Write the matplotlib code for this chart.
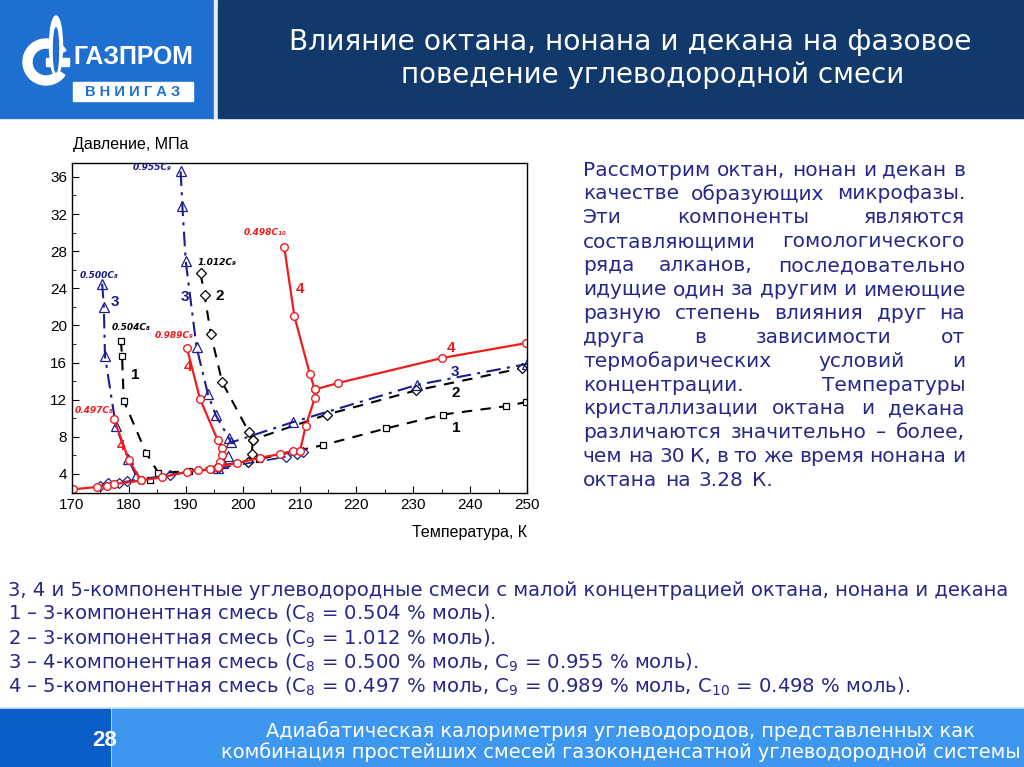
import matplotlib
matplotlib.use('Agg')
import matplotlib.pyplot as plt
from matplotlib.patches import Rectangle, Ellipse, Wedge
from matplotlib.ticker import MultipleLocator

# ---- данные (T, К ; P, МПа) ----
# 1: C8 = 0.504 (квадраты, штрих)
s1_T = [178.6, 178.8, 179.1, 183.0, 185.2, 190.5, 202.9, 214.1, 225.2, 235.2, 246.3, 249.9]
s1_P = [18.3, 16.7, 11.9, 6.3, 4.1, 4.3, 5.6, 7.1, 8.9, 10.4, 11.3, 11.75]
s1_low_T = [183.7]
s1_low_P = [3.4]

# 2: C9 = 1.012 (ромбы, штрих)
s2_T = [192.6, 193.3, 194.4, 196.4, 201.1, 201.8, 214.8, 230.5, 249.1]
s2_P = [25.6, 23.3, 19.1, 13.9, 8.5, 7.7, 10.4, 13.0, 15.4]
s2_low_T = [201.8, 201.6, 201.0]
s2_low_P = [7.7, 6.2, 5.3]

# 3: C8 = 0.500, C9 = 0.955 (треугольники, штрих-пунктир)
s3a_T = [175.3, 175.6, 175.8, 177.7, 179.9, 181.3]
s3a_P = [24.5, 22.0, 16.7, 9.2, 5.6, 3.8]
s3b_T = [189.1, 189.4, 190.0, 191.9, 193.9, 195.3, 197.6, 198.0, 208.9, 230.7, 250.0]
s3b_P = [36.6, 32.9, 26.9, 17.65, 12.6, 10.3, 7.85, 7.4, 9.6, 13.6, 15.85]
s3_low_T = [197.5, 196.6, 195.6]
s3_low_P = [5.9, 5.2, 4.6]
s3d_T = [174.9, 176.4, 178.3, 179.6, 187.2, 195.6, 207.7, 209.5, 210.6]
s3d_P = [2.7, 3.0, 3.05, 3.2, 3.9, 4.6, 5.85, 6.15, 6.4]

# 4: C8 = 0.497, C9 = 0.989, C10 = 0.498 (круги, сплошная)
s4_T = [170.2, 174.4, 176.1, 177.4, 182.1, 185.9, 190.2, 192.2, 194.3, 195.7, 199.0, 203.1,
        206.6, 208.9, 210.1, 211.1, 212.7, 212.7, 216.8, 235.1, 249.9]
s4_P = [2.35, 2.6, 2.7, 2.9, 3.3, 3.65, 4.25, 4.4, 4.5, 4.8, 5.15, 5.75,
        6.15, 6.5, 6.5, 9.2, 12.2, 13.1, 13.8, 16.5, 18.1]
s4a_T = [177.4, 180.0, 182.1]
s4a_P = [9.9, 5.5, 3.3]
s4b_T = [190.2, 192.5, 195.6, 196.4, 196.3, 196.0, 195.7]
s4b_P = [17.6, 12.1, 7.65, 6.85, 6.05, 5.3, 4.7]
s4c_T = [207.3, 209.1, 211.8, 212.7]
s4c_P = [28.5, 21.0, 14.8, 13.1]

x_ticks = [170, 180, 190, 200, 210, 220, 230, 240, 250]
y_ticks = [4, 8, 12, 16, 20, 24, 28, 32, 36]

title_lines = ['Влияние октана, нонана и декана на фазовое',
               'поведение углеводородной смеси']

para_lines = ['Рассмотрим октан, нонан и декан в',
              'качестве образующих микрофазы.',
              'Эти компоненты являются',
              'составляющими гомологического',
              'ряда алканов, последовательно',
              'идущие один за другим и имеющие',
              'разную степень влияния друг на',
              'друга в зависимости от',
              'термобарических условий и',
              'концентрации. Температуры',
              'кристаллизации октана и декана',
              'различаются значительно – более,',
              'чем на 30 К, в то же время нонана и',
              'октана на 3.28 К.']

notes = ['3, 4 и 5-компонентные углеводородные смеси с малой концентрацией октана, нонана и декана',
         '1 – 3-компонентная смесь (C$_8$ = 0.504 % моль).',
         '2 – 3-компонентная смесь (C$_9$ = 1.012 % моль).',
         '3 – 4-компонентная смесь (C$_8$ = 0.500 % моль, C$_9$ = 0.955 % моль).',
         '4 – 5-компонентная смесь (C$_8$ = 0.497 % моль, C$_9$ = 0.989 % моль, C$_{10}$ = 0.498 % моль).']

footer_lines = ['Адиабатическая калориметрия углеводородов, представленных как',
                'комбинация простейших смесей газоконденсатной углеводородной системы']

plt.rcParams['font.family'] = ['Liberation Sans', 'DejaVu Sans']
plt.rcParams['mathtext.fontset'] = 'custom'
plt.rcParams['mathtext.rm'] = 'DejaVu Sans'
plt.rcParams['mathtext.it'] = 'DejaVu Sans:italic'

W, H = 1024, 767
fig = plt.figure(figsize=(W / 100, H / 100), dpi=100)
renderer = fig.canvas.get_renderer()


def fit(t, width):
    # подогнать размер шрифта под ширину строки на исходном слайде
    w = t.get_window_extent(renderer).width
    t.set_fontsize(t.get_fontsize() * width / w)


# фон в пикселях
bg = fig.add_axes([0, 0, 1, 1], zorder=0)
bg.set_xlim(0, W)
bg.set_ylim(H, 0)
bg.axis('off')

navy_txt = '#27278a'
logo_blue = '#1f6fd1'

# шапка
bg.add_patch(Rectangle((0, 0), 214, 118, color=logo_blue))
bg.add_patch(Rectangle((214, 0), 4, 118, color='#e8eef7'))
bg.add_patch(Rectangle((218, 0), W - 218, 118, color='#11396c'))
t = bg.text(630, 42, title_lines[0], color='white', fontsize=20, family='DejaVu Sans',
            ha='center', va='center')
fit(t, 684)
t = bg.text(653, 75, title_lines[1], color='white', fontsize=20, family='DejaVu Sans',
            ha='center', va='center')
fit(t, 503)

# логотип
bg.add_patch(Wedge((46, 62), 23, 35, 330, width=9, color='white'))
bg.add_patch(Rectangle((46, 58), 23, 8, color='white'))
bg.add_patch(Ellipse((56, 46), 13, 60, color='white'))
bg.add_patch(Ellipse((56, 50), 5, 44, color=logo_blue))
t = bg.text(133, 57, 'ГАЗПРОМ', color='white', fontsize=22, fontweight='bold',
            family=['Liberation Sans Narrow', 'Liberation Sans'], ha='center', va='center')
fit(t, 120)
bg.add_patch(Rectangle((73, 82), 120, 19, color='white'))
bg.text(133, 92, 'В Н И И Г А З', color=logo_blue, fontsize=10.5, fontweight='bold',
        ha='center', va='center')

# подвал
bg.add_patch(Rectangle((0, 707), W, 2, color='#d8e6f7'))
bg.add_patch(Rectangle((0, 709), 110, H - 709, color='#0a5cc6'))
bg.add_patch(Rectangle((112, 709), W - 112, H - 709, color='#3d97ee'))
bg.text(105, 741, '28', color='white', fontsize=16, fontweight='bold',
        family=['Liberation Sans Narrow', 'Liberation Sans'], ha='center', va='center')
t = bg.text(620, 731, footer_lines[0], color='white', fontsize=13.5, family='DejaVu Sans',
            ha='center', va='center')
fit(t, 710)
t = bg.text(621, 752, footer_lines[1], color='white', fontsize=13.5, family='DejaVu Sans',
            ha='center', va='center')
fit(t, 798)

# подписи под графиком
note_size = None
for i, line in enumerate(notes):
    t = bg.text(8, 590 + i * 24.2, line, color=navy_txt, fontsize=14, family='DejaVu Sans',
                ha='left', va='center')
    if i == 0:
        fit(t, 1007)
        note_size = t.get_fontsize()
    else:
        t.set_fontsize(note_size)

# текст справа, по ширине
x0, x1 = 583, 965
for i, line in enumerate(para_lines):
    y = 170 + i * 23.9
    words = line.split(' ')
    texts = [bg.text(0, y, w, color=navy_txt, fontsize=14.5, family='DejaVu Sans',
                     ha='left', va='center') for w in words]
    widths = [tt.get_window_extent(renderer).width for tt in texts]
    if i == len(para_lines) - 1:
        gap = 8
    else:
        gap = (x1 - x0 - sum(widths)) / (len(words) - 1)
    x = x0
    for tt, w in zip(texts, widths):
        tt.set_x(x)
        x += w + gap

# ---- график ----
ax = fig.add_axes([72 / W, 1 - 493 / H, 455 / W, 330 / H], zorder=1)
ax.patch.set_alpha(0)
red = '#f01c1c'
blue = '#1c1c8c'

dash = (0, (5, 4))
dashdot = (0, (7, 3, 1.5, 3))

ax.plot(s1_T, s1_P, color='black', ls=dash, lw=1.5, marker='s', ms=5, mfc='white', mew=0.9)
ax.plot(s1_low_T, s1_low_P, ls='none', color='black', marker='s', ms=5, mfc='white', mew=0.9)
ax.plot(s2_T, s2_P, color='black', ls=dash, lw=1.5, marker='D', ms=5, mfc='white', mew=0.9)
ax.plot(s2_low_T, s2_low_P, color='black', ls=dash, lw=1.5, marker='D', ms=5, mfc='white', mew=0.9)
ax.plot(s3a_T, s3a_P, color=blue, ls=dashdot, lw=1.5, marker='^', ms=7, mfc='none', mew=0.9)
ax.plot(s3b_T, s3b_P, color=blue, ls=dashdot, lw=1.5, marker='^', ms=7, mfc='none', mew=0.9)
ax.plot(s3_low_T, s3_low_P, ls='none', color=blue, marker='^', ms=7, mfc='none', mew=0.9)
ax.plot(s3d_T, s3d_P, color=blue, ls=dashdot, lw=1.2, marker='D', ms=5, mfc='none', mew=0.9)
for T, P in [(s4_T, s4_P), (s4a_T, s4a_P), (s4b_T, s4b_P), (s4c_T, s4c_P)]:
    ax.plot(T, P, color=red, lw=1.6, marker='o', ms=5.5, mfc='white', mew=1.0)

ax.set_xlim(170, 250)
ax.set_ylim(1.95, 37.5)
ax.set_xticks(x_ticks)
ax.set_yticks(y_ticks)
ax.xaxis.set_minor_locator(MultipleLocator(5))
ax.yaxis.set_minor_locator(MultipleLocator(2))
ax.tick_params(which='both', direction='in', top=False, right=False, labelsize=11)
ax.tick_params(which='major', length=5)
ax.tick_params(which='minor', length=3)
for sp in ax.spines.values():
    sp.set_linewidth(1.0)

fig.text(73 / W, 1 - 145 / H, 'Давление, МПа', fontsize=11.5, ha='left', va='center')
fig.text(527 / W, 1 - 533 / H, 'Температура, К', fontsize=11.5, ha='right', va='center')

lab = dict(fontsize=6.5, fontweight='bold', style='italic', ha='left', va='center',
           family=['DejaVu Sans'])
ax.text(180.7, 37.0, '0.955C₉', color=blue, **lab)
ax.text(171.4, 25.4, '0.500C₈', color=blue, **lab)
ax.text(177.0, 19.8, '0.504C₈', color='black', **lab)
ax.text(170.4, 10.8, '0.497C₈', color=red, **lab)
ax.text(184.6, 18.9, '0.989C₉', color=red, **lab)
ax.text(192.0, 26.8, '1.012C₉', color='black', **lab)
ax.text(200.2, 30.0, '0.498C₁₀', color=red, **lab)

num = dict(fontsize=11, fontweight='bold', ha='center', va='center')
ax.text(177.6, 22.5, '3', color=blue, **num)
ax.text(181.2, 14.7, '1', color='black', **num)
ax.text(178.6, 7.0, '4', color=red, **num)
ax.text(190.4, 15.5, '4', color=red, **num)
ax.text(189.9, 23.1, '3', color=blue, **num)
ax.text(196.0, 23.2, '2', color='black', **num)
ax.text(210.1, 23.9, '4', color=red, **num)
ax.text(236.6, 17.6, '4', color=red, **num)
ax.text(237.4, 15.0, '3', color=blue, **num)
ax.text(237.4, 12.7, '2', color='black', **num)
ax.text(237.6, 9.0, '1', color='black', **num)

fig.savefig('out.png', dpi=100)
